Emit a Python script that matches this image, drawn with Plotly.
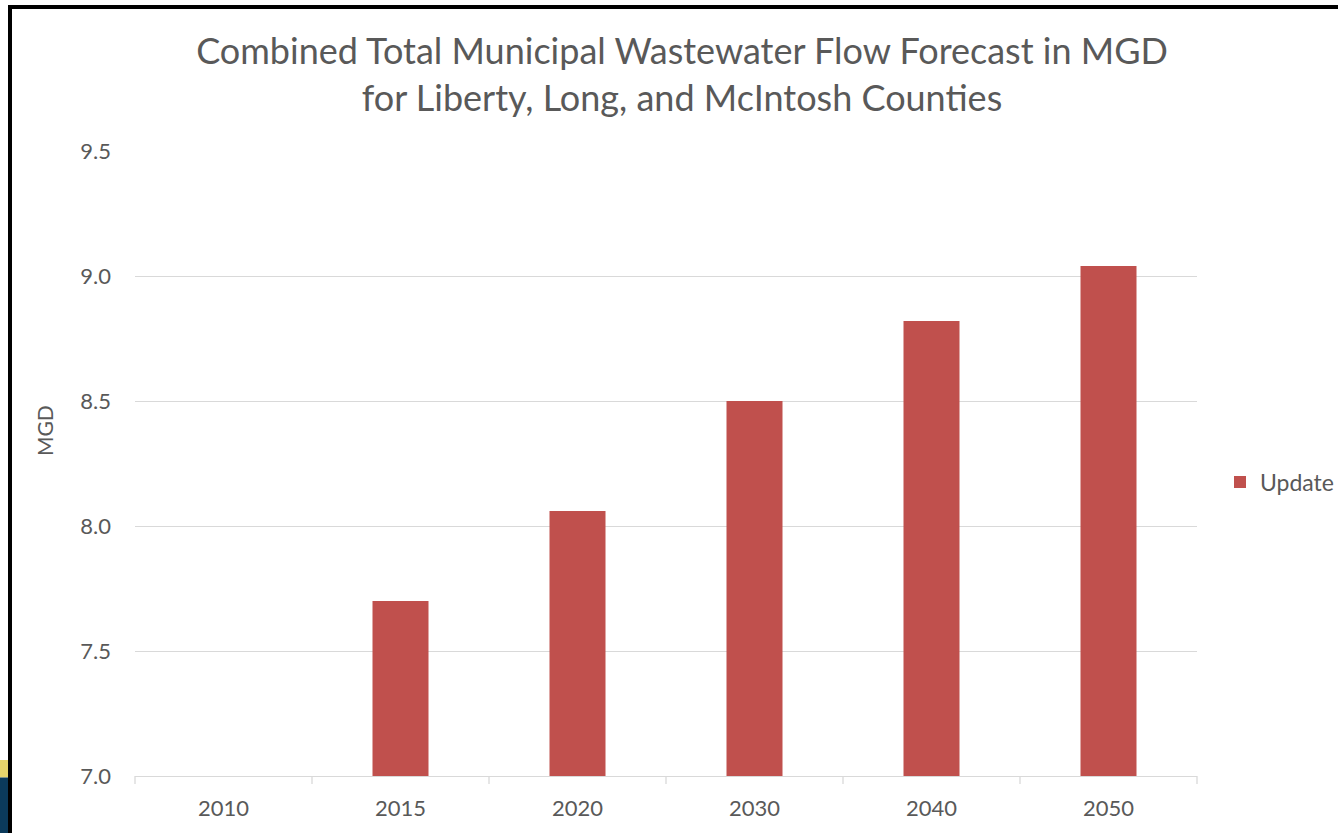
import plotly.graph_objects as go

# Forecast data (MGD)
years = ["2010", "2015", "2020", "2030", "2040", "2050"]
update_mgd = [None, 7.70, 8.06, 8.50, 8.82, 9.04]
y_ticks = [7.0, 7.5, 8.0, 8.5, 9.0, 9.5]

TEXT = "#595959"
BAR = "#C0504D"
GRID = "#D9D9D9"
FONT = "Lato"

W, H = 1338, 833
L, R, T, B = 135, 141, 151, 57
pw, ph = W - L - R, H - T - B

def px(x):
    return (x - L) / pw

def py(y):
    return (H - B - y) / ph

fig = go.Figure()
fig.add_trace(go.Bar(
    x=years, y=update_mgd, name="Update",
    marker=dict(color=BAR, line=dict(width=0)),
))

shapes = []
# category boundary tick marks below the axis
for i in range(len(years) + 1):
    xp = i / len(years)
    shapes.append(dict(type="line", xref="paper", yref="paper",
                       x0=xp, x1=xp, y0=0, y1=-8 / ph,
                       line=dict(color=GRID, width=1.3)))
# slide frame and slide fragments at the left edge
shapes += [
    dict(type="rect", xref="paper", yref="paper", x0=px(0), x1=px(8),
         y0=py(760), y1=py(777.5), fillcolor="#E6D46B", line=dict(width=0)),
    dict(type="rect", xref="paper", yref="paper", x0=px(0), x1=px(8),
         y0=py(777.5), y1=py(833), fillcolor="#0B3A5B", line=dict(width=0)),
    dict(type="rect", xref="paper", yref="paper", x0=px(8), x1=px(12),
         y0=py(5), y1=py(833), fillcolor="#000000", line=dict(width=0)),
    dict(type="rect", xref="paper", yref="paper", x0=px(8), x1=px(1338),
         y0=py(5), y1=py(9), fillcolor="#000000", line=dict(width=0)),
]

fig.update_layout(
    width=W, height=H,
    margin=dict(l=L, r=R, t=T, b=B, autoexpand=False),
    paper_bgcolor="white", plot_bgcolor="white",
    font=dict(family=FONT, color=TEXT, size=22),
    title=dict(
        text="Combined Total Municipal Wastewater Flow Forecast in MGD<br>for Liberty, Long, and McIntosh Counties",
        x=682 / W, xanchor="center", y=1 - 64 / H, yanchor="middle",
        font=dict(family=FONT, size=36, color=TEXT),
    ),
    bargap=1 - 56 / 177,
    showlegend=True,
    legend=dict(x=px(1220), xanchor="left", y=py(482), yanchor="middle",
                font=dict(size=23, color=TEXT), bgcolor="rgba(0,0,0,0)",
                itemwidth=30),
    shapes=shapes,
    xaxis=dict(
        type="category", showgrid=False, showline=True, linecolor=GRID,
        linewidth=1.3, ticks="", tickfont=dict(size=22, color=TEXT),
        ticklabelstandoff=12,
    ),
    yaxis=dict(
        range=[7.0, 9.5], tickvals=y_ticks, ticktext=[f"{v:.1f}" for v in y_ticks],
        showgrid=True, gridcolor=GRID, gridwidth=1.3, zeroline=False,
        showline=False, ticks="", tickfont=dict(size=22, color=TEXT),
        ticklabelstandoff=23,
    ),
    annotations=[dict(
        text="MGD", xref="paper", yref="paper", x=px(45), y=py(431),
        textangle=-90, showarrow=False, font=dict(size=21, color=TEXT),
        xanchor="center", yanchor="middle",
    )],
)

fig.write_html("out.html")
